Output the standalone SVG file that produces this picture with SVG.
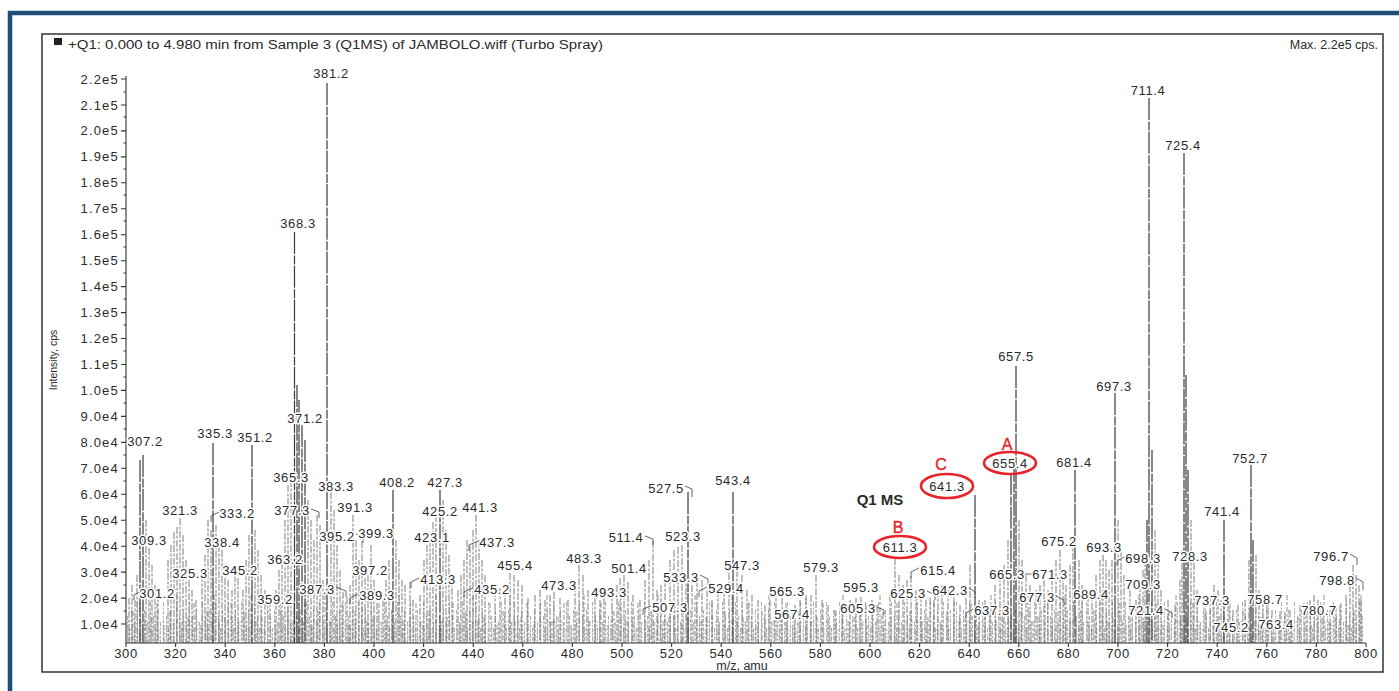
<svg xmlns="http://www.w3.org/2000/svg" width="1399" height="691" viewBox="0 0 1399 691">
<style>
.t{font-family:"Liberation Sans",Arial,sans-serif;fill:#2b2b2b}
.lb{font-size:13px;letter-spacing:0.6px;text-anchor:middle;stroke:#fff;stroke-width:3px;paint-order:stroke;stroke-linejoin:round}
.yl{font-size:13px;letter-spacing:1.2px;text-anchor:end}
.xl{font-size:13px;letter-spacing:0.6px;text-anchor:middle}
.red{font-family:"Liberation Sans",Arial,sans-serif;fill:#e8242a;font-size:16px;text-anchor:middle;stroke:#e8242a;stroke-width:0.4px}
.ell{fill:none;stroke:#e8242a;stroke-width:2.6}
.pkM{fill:none;stroke:#3a3a3a;stroke-width:1.2;stroke-dasharray:22 1.5 9 1.2}
.pk{fill:none;stroke:#707070;stroke-width:0.9;stroke-dasharray:7 1.5 3 1.5}
.ld{fill:none;stroke:#555;stroke-width:0.9}
.ax{fill:none;stroke:#333;stroke-width:1.1}
</style>
<defs>
<pattern id="nA" patternUnits="userSpaceOnUse" x="0" y="588" width="13" height="55">
<path d="M1.5 22V55M4.5 34V55M7.5 14V55M10.5 28V55M12.5 40V55" stroke="#9a9a9a" stroke-width="0.8" stroke-dasharray="4 1.5 2 1.2" fill="none"/>
</pattern>
<pattern id="nB" patternUnits="userSpaceOnUse" x="0" y="573" width="37" height="70">
<path d="M3 44V70M9 30V70M16 52V70M22 38V70M29 22V70M34 48V70" stroke="#858585" stroke-width="0.9" stroke-dasharray="5 2 3 2" fill="none"/>
</pattern>
<pattern id="nC" patternUnits="userSpaceOnUse" x="0" y="613" width="7" height="30">
<path d="M2 8V30M5 16V30" stroke="#aaaaaa" stroke-width="0.8" stroke-dasharray="2 1.5" fill="none"/>
</pattern>
</defs>

<g id="frame">
<rect x="0" y="0" width="1399" height="691" fill="#fff"/>
<path d="M10 691V13H1399" fill="none" stroke="#1f4e79" stroke-width="4.5"/>
<rect x="42" y="34" width="1341" height="638" fill="none" stroke="#333" stroke-width="1.5"/>
</g>

<g id="header">
<rect x="54" y="38" width="8" height="7" fill="#222"/>
<text class="t" x="68" y="49" font-size="12.5" textLength="535" lengthAdjust="spacingAndGlyphs">+Q1: 0.000 to 4.980 min from Sample 3 (Q1MS) of JAMBOLO.wiff (Turbo Spray)</text>
<text class="t" x="1378" y="49" font-size="12.5" text-anchor="end">Max. 2.2e5 cps.</text>
</g>

<g id="noise">
<rect x="127" y="573" width="1236" height="70" fill="url(#nB)"/>
<rect x="127" y="588" width="1236" height="55" fill="url(#nA)"/>
<rect x="127" y="613" width="1236" height="30" fill="url(#nC)"/>
</g>

<g id="peaks">
<path class="pk" d="M129 598V643M132 585V643M135 600V643M137 575V643M146 520V643M149 548V643M152 565V643M155 585V643M158 595V643
M168 560V643M171 545V643M174 532V643M177 527V643M180 518V643M183 535V643M186 560V643M189 580V643M192 590V643M196 600V643
M202 575V643M205 555V643M208 520V643M211 530V643M216 525V643M219 545V643M222 550V643M225 565V643M228 580V643M232 590V643M235 575V643M238 578V643M243 590V643M246 560V643M249 535V643M255 530V643M258 550V643M261 575V643M265 590V643
M270 600V643M276 590V643M279 570V643M282 562V643M285 520V643M288 485V643M291 480V643M308 500V643M311 520V643M314 540V643M317 515V643M320 525V643M323 580V643M331 492V643M334 510V643M337 545V643M340 570V643M343 592V643M347 597V643M350 585V643M353 515V643M356 540V643M359 560V643M362 541V643M365 565V643M368 575V643M371 545V643M374 580V643M377 590V643
M383 600V643M386 580V643M389 560V643M396 540V643M399 560V643M402 580V643M405 585V643M410 582V643M413 600V643M420 595V643M424 560V643M427 545V643M430 540V643M433 522V643M436 515V643M443 500V643M446 530V643M449 555V643M452 575V643M458 590V643M461 575V643M464 560V643M467 540V643M470 546V643M473 530V643M476 515V643M479 540V643M482 560V643M485 575V643
M495 590V643M500 588V643M505 585V643M510 573V643M514 575V643M518 580V643M522 585V643M528 598V643M535 595V643M540 590V643M545 600V643M550 595V643M554 592V643M560 598V643M568 600V643M575 585V643M579 565V643M583 575V643M588 590V643M595 598V643M600 600V643M604 598V643M612 590V643M617 585V643M620 578V643M624 575V643M628 582V643M633 595V643M640 600V643M645 580V643M649 560V643M653 541V643M657 590V643M661 585V643M665 580V643M670 560V643M674 550V643M678 547V643M682 545V643M686 575V643M692 585V643M697 580V643M702 580V643M707 590V643M712 600V643M718 590V643M724 585V643M729 560V643M737 570V643M742 575V643M747 590V643M752 595V643M758 600V643M765 605V643M770 600V643M776 590V643M782 598V643M787 610V643M795 605V643M800 600V643M806 598V643M811 595V643M816 575V643M822 600V643M828 605V643
M835 610V643M842 605V643M850 600V643M856 598V643M861 597V643M866 605V643M872 600V643M877 605V643M883 612V643M890 595V643M895 558V643M899 575V643M903 585V643M907 580V643M911 576V643M916 590V643M921 595V643M926 600V643M930 598V643M934 600V643M938 590V643M942 585V643M948 590V643M954 600V643M960 605V643M966 585V643M970 565V643M979 600V643M985 600V643M990 612V643M995 585V643M1000 575V643M1004 565V643M1008 540V643M1019 520V643M1022 560V643M1026 575V643M1030 585V643
M1036 590V643M1040 585V643M1044 580V643M1048 590V643M1052 578V643M1056 560V643M1060 550V643M1063 570V643M1066 585V643M1070 565V643M1073 540V643M1079 560V643M1082 585V643M1088 595V643M1092 590V643M1096 575V643M1100 560V643M1103 555V643M1106 560V643M1109 570V643M1112 560V643M1118 520V643M1121 550V643M1124 575V643M1130 590V643M1136 600V643M1140 585V643M1143 570V643M1145 560V643M1155 530V643M1158 560V643M1161 590V643M1168 600V643M1175 605V643M1180 580V643M1182 550V643M1191 520V643M1194 563V643M1197 590V643
M1205 600V643M1210 595V643M1214 585V643M1218 590V643M1221 600V643M1228 605V643M1233 610V643M1238 605V643M1245 600V643M1249 560V643M1256 555V643M1259 590V643M1263 600V643M1267 595V643M1272 610V643M1280 615V643M1285 612V643M1290 610V643M1300 605V643M1306 612V643M1310 600V643M1314 595V643M1318 600V643M1322 605V643M1330 610V643M1336 605V643M1340 605V643M1346 595V643M1350 585V643M1353 565V643M1356 575V643M1359 585V643M1361 600V643"/>
<path class="pkM" d="M143 455V643M140 460V643M213 443V643M252 445V643M294.5 232V643M297 385V643M299 400V643M302 425V643M305 440V643M327 83V643M393 490V643M440 490V643M688 492V643M733 492V643M975 495V643M1011 473V643M1014 460V643M1016 366V643M1075 470V643M1115 393V643M1149 98V643M1152 450V643M1147 520V643M1184 153V643M1186 375V643M1188 470V643M1224 520V643M1251 465V643M1253 540V643"/>
</g>

<g id="axes">
<path class="ax" d="M126 76V643H1366"/>
<path class="ax" d="M121 624H126M121 598.1H126M121 572.1H126M121 546.2H126M121 520.2H126M121 494.3H126M121 468.3H126M121 442.4H126M121 416.4H126M121 390.4H126M121 364.5H126M121 338.5H126M121 312.6H126M121 286.6H126M121 260.7H126M121 234.7H126M121 208.8H126M121 182.8H126M121 156.9H126M121 130.9H126M121 105H126M121 79H126"/>
<path class="ax" stroke-width="0.8" d="M123.5 611H126M123.5 585H126M123.5 559H126M123.5 533H126M123.5 507H126M123.5 481H126M123.5 455H126M123.5 429H126M123.5 403H126M123.5 377H126M123.5 351H126M123.5 325H126M123.5 299H126M123.5 273H126M123.5 247H126M123.5 221H126M123.5 195H126M123.5 169H126M123.5 143H126M123.5 117H126M123.5 92H126"/>
<path class="ax" d="M126 643V647M175.6 643V647M225.2 643V647M274.8 643V647M324.4 643V647M374 643V647M423.6 643V647M473.2 643V647M522.8 643V647M572.4 643V647M622 643V647M671.6 643V647M721.2 643V647M770.8 643V647M820.4 643V647M870 643V647M919.6 643V647M969.2 643V647M1018.8 643V647M1068.4 643V647M1118 643V647M1167.6 643V647M1217.2 643V647M1266.8 643V647M1316.4 643V647M1366 643V647"/>
<g class="t yl">
<text x="119" y="628.5">1.0e4</text><text x="119" y="602.6">2.0e4</text><text x="119" y="576.6">3.0e4</text><text x="119" y="550.7">4.0e4</text><text x="119" y="524.7">5.0e4</text><text x="119" y="498.8">6.0e4</text><text x="119" y="472.8">7.0e4</text><text x="119" y="446.9">8.0e4</text><text x="119" y="420.9">9.0e4</text><text x="119" y="394.9">1.0e5</text><text x="119" y="369">1.1e5</text><text x="119" y="343">1.2e5</text><text x="119" y="317.1">1.3e5</text><text x="119" y="291.1">1.4e5</text><text x="119" y="265.2">1.5e5</text><text x="119" y="239.2">1.6e5</text><text x="119" y="213.3">1.7e5</text><text x="119" y="187.3">1.8e5</text><text x="119" y="161.4">1.9e5</text><text x="119" y="135.4">2.0e5</text><text x="119" y="109.5">2.1e5</text><text x="119" y="83.5">2.2e5</text>
</g>
<g class="t xl">
<text x="126" y="658">300</text><text x="175.6" y="658">320</text><text x="225.2" y="658">340</text><text x="274.8" y="658">360</text><text x="324.4" y="658">380</text><text x="374" y="658">400</text><text x="423.6" y="658">420</text><text x="473.2" y="658">440</text><text x="522.8" y="658">460</text><text x="572.4" y="658">480</text><text x="622" y="658">500</text><text x="671.6" y="658">520</text><text x="721.2" y="658">540</text><text x="770.8" y="658">560</text><text x="820.4" y="658">580</text><text x="870" y="658">600</text><text x="919.6" y="658">620</text><text x="969.2" y="658">640</text><text x="1018.8" y="658">660</text><text x="1068.4" y="658">680</text><text x="1118" y="658">700</text><text x="1167.6" y="658">720</text><text x="1217.2" y="658">740</text><text x="1266.8" y="658">760</text><text x="1316.4" y="658">780</text><text x="1366" y="658">800</text>
</g>
<text class="t" x="742" y="670" font-size="12.5" text-anchor="middle">m/z, amu</text>
<text class="t" transform="translate(57 360) rotate(-90)" font-size="10.5" text-anchor="middle">Intensity, cps</text>
</g>

<g id="leaders">
<path class="ld" d="M139 592L134 595V600M219 512L211 516V522M311 509L319 512V518M336 587L346 591V597M358 594L350 598V604M356 534L363 537V543M419 578L411 582V588M473 588L464 592V598M478 541L469 545V551M645 536L653 539V545M685 486L692 489V497M700 575L708 579V585M707 587L699 591V597M651 606L643 609V615M877 607L884 610V615M919 568L911 572V578M927 591L935 595V600M969 588L975 592V598M973 609L966 613V618M1025 574H1032M1056 596L1064 600V606M1124 557L1117 561V566M1165 609L1172 613V618M1350 554L1357 558V565M1356 578L1363 582V590"/>
</g>

<g id="labels" class="t lb">
<text x="145" y="445.5">307.2</text>
<text x="157" y="597.5">301.2</text>
<text x="149" y="544.5">309.3</text>
<text x="180" y="514.5">321.3</text>
<text x="190" y="577.5">325.3</text>
<text x="215" y="437.5">335.3</text>
<text x="237" y="517.5">333.2</text>
<text x="222" y="546.5">338.4</text>
<text x="240" y="574.5">345.2</text>
<text x="255" y="441.5">351.2</text>
<text x="275" y="603.5">359.2</text>
<text x="285" y="563.5">363.2</text>
<text x="291" y="481.5">365.3</text>
<text x="298" y="227.5">368.3</text>
<text x="305" y="422.5">371.2</text>
<text x="292" y="514.5">377.3</text>
<text x="331" y="77.5">381.2</text>
<text x="336" y="490.5">383.3</text>
<text x="317" y="593.5">387.3</text>
<text x="377" y="599.5">389.3</text>
<text x="355" y="511.5">391.3</text>
<text x="337" y="540.5">395.2</text>
<text x="370" y="574.5">397.2</text>
<text x="376" y="537.5">399.3</text>
<text x="397" y="486.5">408.2</text>
<text x="438" y="583.5">413.3</text>
<text x="432" y="541.5">423.1</text>
<text x="440" y="515.5">425.2</text>
<text x="445" y="486.5">427.3</text>
<text x="492" y="593.5">435.2</text>
<text x="497" y="546.5">437.3</text>
<text x="480" y="511.5">441.3</text>
<text x="515" y="569.5">455.4</text>
<text x="559" y="589.5">473.3</text>
<text x="584" y="562.5">483.3</text>
<text x="609" y="596.5">493.3</text>
<text x="629" y="572.5">501.4</text>
<text x="670" y="611.5">507.3</text>
<text x="626" y="541.5">511.4</text>
<text x="683" y="540.5">523.3</text>
<text x="666" y="492.5">527.5</text>
<text x="726" y="592.5">529.4</text>
<text x="681" y="581.5">533.3</text>
<text x="733" y="484.5">543.4</text>
<text x="742" y="569.5">547.3</text>
<text x="787" y="595.5">565.3</text>
<text x="792" y="618.5">567.4</text>
<text x="821" y="571.5">579.3</text>
<text x="861" y="591.5">595.3</text>
<text x="858" y="612.5">605.3</text>
<text x="938" y="574.5">615.4</text>
<text x="908" y="597.5">625.3</text>
<text x="992" y="614.5">637.3</text>
<text x="950" y="594.5">642.3</text>
<text x="1016" y="360.5">657.5</text>
<text x="1007" y="578.5">665.3</text>
<text x="1050" y="578.5">671.3</text>
<text x="1059" y="545.5">675.2</text>
<text x="1037" y="601.5">677.3</text>
<text x="1074" y="466.5">681.4</text>
<text x="1091" y="598.5">689.4</text>
<text x="1104" y="551.5">693.3</text>
<text x="1114" y="390.5">697.3</text>
<text x="1143" y="562.5">698.3</text>
<text x="1143" y="588.5">709.3</text>
<text x="1148" y="94.5">711.4</text>
<text x="1146" y="614.5">721.4</text>
<text x="1183" y="149.5">725.4</text>
<text x="1190" y="560.5">728.3</text>
<text x="1212" y="604.5">737.3</text>
<text x="1222" y="515.5">741.4</text>
<text x="1231" y="631.5">745.2</text>
<text x="1250" y="462.5">752.7</text>
<text x="1265" y="603.5">758.7</text>
<text x="1276" y="628.5">763.4</text>
<text x="1319" y="614.5">780.7</text>
<text x="1331" y="560.5">796.7</text>
<text x="1337" y="584.5">798.8</text>
</g>

<g id="annotation-A">
<text class="t lb" x="1010" y="467.5">655.4</text>
<ellipse class="ell" cx="1010" cy="463" rx="26" ry="11"/>
<text class="red" x="1007" y="450">A</text>
</g>
<g id="annotation-C">
<text class="t lb" x="947" y="490.5">641.3</text>
<ellipse class="ell" cx="947" cy="486" rx="26" ry="12"/>
<text class="red" x="941" y="470">C</text>
</g>
<g id="annotation-B">
<text class="t lb" x="900" y="551.5">611.3</text>
<ellipse class="ell" cx="900" cy="547" rx="26" ry="11"/>
<text class="red" x="898" y="533">B</text>
</g>
<g id="q1ms">
<text class="t" x="880" y="505" font-size="15" font-weight="bold" text-anchor="middle">Q1 MS</text>
</g>
</svg>
